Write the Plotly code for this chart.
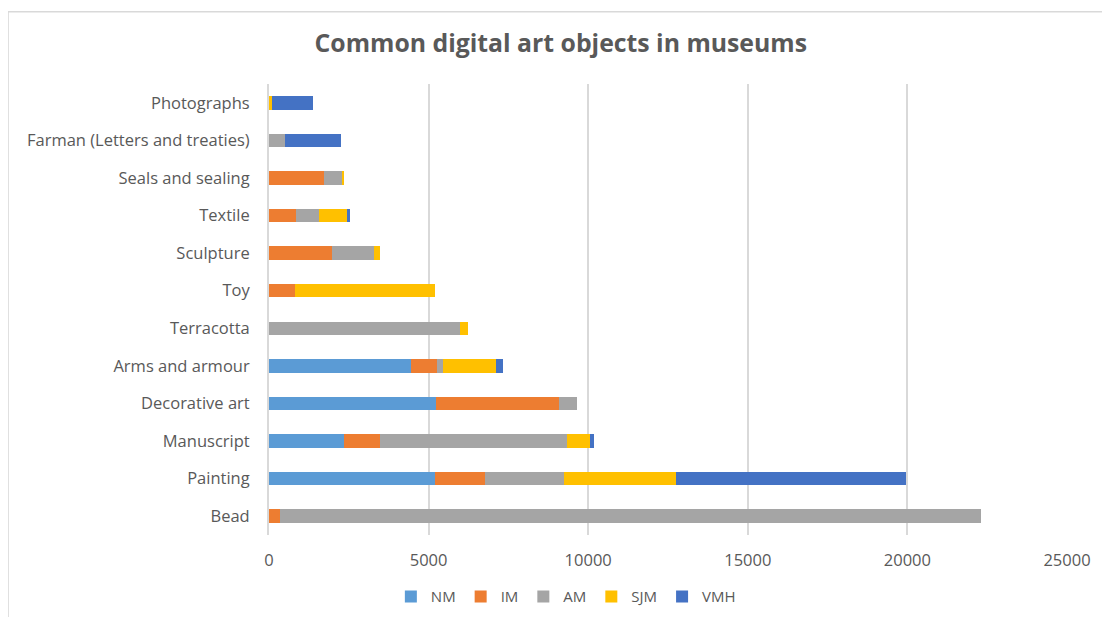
import plotly.graph_objects as go

categories = ["Bead", "Painting", "Manuscript", "Decorative art", "Arms and armour",
              "Terracotta", "Toy", "Sculpture", "Textile", "Seals and sealing",
              "Farman (Letters and treaties)", "Photographs"]

nm = [0, 5196, 2346, 5223, 4455, 0, 0, 0, 0, 0, 0, 0]
im = [349, 1578, 1132, 3855, 810, 0, 805, 1966, 858, 1736, 0, 0]
am = [21956, 2472, 5866, 573, 195, 5983, 0, 1319, 721, 576, 512, 20]
sjm = [0, 3519, 726, 0, 1663, 241, 4394, 188, 858, 31, 0, 60]
vmh = [0, 7193, 98, 0, 209, 0, 0, 0, 105, 0, 1737, 1300]

series = [("NM", nm, "#5B9BD5"), ("IM", im, "#ED7D31"), ("AM", am, "#A5A5A5"),
          ("SJM", sjm, "#FFC000"), ("VMH", vmh, "#4472C4")]

fig = go.Figure()
for name, vals, color in series:
    fig.add_trace(go.Bar(y=categories, x=vals, name=name, orientation="h",
                         marker=dict(color=color, line=dict(width=0))))

font_family = "Open Sans, Liberation Sans, sans-serif"
fig.update_layout(
    barmode="stack",
    bargap=0.64,
    width=1110, height=617,
    paper_bgcolor="white", plot_bgcolor="white",
    margin=dict(l=261, r=51, t=76, b=82),
    title=dict(text="<b>Common digital art objects in museums</b>", xref="container",
               x=0.498, xanchor="center", yref="container", y=0.942, yanchor="middle",
               font=dict(family=font_family, size=24.8, color="#595959")),
    font=dict(family=font_family, size=16.5, color="#595959"),
    xaxis=dict(range=[0, 25000], dtick=5000, tickformat="d", showgrid=True,
               gridcolor="#D9D9D9", gridwidth=2, zeroline=False,
               tickfont=dict(size=16.5, color="#595959"), ticks="", ticklabelstandoff=13,
               showline=False, automargin=False, fixedrange=True),
    yaxis=dict(categoryorder="array", categoryarray=categories, showgrid=False,
               tickfont=dict(size=16.5, color="#595959"), ticks="", ticklabelstandoff=14,
               showline=True, linecolor="#D9D9D9", linewidth=2, automargin=False),
    legend=dict(orientation="h", x=0.372, xanchor="center", y=-0.137, yanchor="middle",
                font=dict(size=15, color="#595959"), traceorder="normal", itemwidth=30),
    showlegend=True,
)
fig.add_shape(type="rect", xref="paper", yref="paper", x0=-0.327, x1=1.08, y0=-0.22, y1=1.16,
              line=dict(color="#D9D9D9", width=1.5))
fig.write_html("out.html")
